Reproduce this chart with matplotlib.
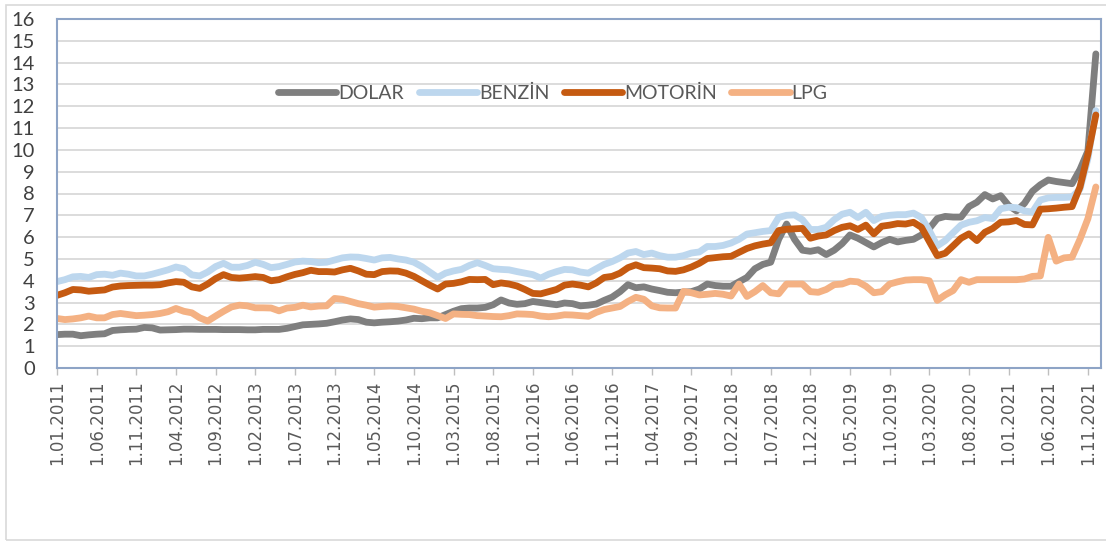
import matplotlib
matplotlib.use('Agg')
import matplotlib.pyplot as plt
from matplotlib.patches import Rectangle

# monthly values, 01.2011 - 12.2021
dolar = [1.53, 1.55, 1.55, 1.48, 1.52, 1.55, 1.57, 1.72, 1.75, 1.77, 1.78, 1.86,
         1.84, 1.74, 1.75, 1.76, 1.78, 1.78, 1.77, 1.77, 1.77, 1.76, 1.76, 1.76,
         1.75, 1.75, 1.77, 1.77, 1.77, 1.82, 1.90, 1.98, 2.00, 2.02, 2.05, 2.12,
         2.20, 2.25, 2.22, 2.10, 2.07, 2.10, 2.12, 2.15, 2.20, 2.28, 2.26, 2.30,
         2.30, 2.45, 2.60, 2.72, 2.75, 2.75, 2.78, 2.90, 3.12, 2.98, 2.92, 2.95,
         3.05, 3.00, 2.95, 2.90, 2.98, 2.95, 2.85, 2.88, 2.93, 3.10, 3.25, 3.50,
         3.82, 3.68, 3.72, 3.62, 3.55, 3.47, 3.45, 3.48, 3.50, 3.62, 3.85, 3.78,
         3.75, 3.75, 3.95, 4.15, 4.55, 4.75, 4.85, 5.90, 6.60, 5.90, 5.40, 5.35,
         5.42, 5.20, 5.40, 5.70, 6.10, 5.95, 5.75, 5.55, 5.75, 5.90, 5.78, 5.85,
         5.90, 6.10, 6.40, 6.85, 6.95, 6.92, 6.92, 7.40, 7.60, 7.95, 7.75, 7.90,
         7.45, 7.20, 7.55, 8.10, 8.40, 8.62, 8.55, 8.50, 8.45, 9.10, 9.95, 14.40]

benzin = [3.96, 4.05, 4.18, 4.20, 4.15, 4.28, 4.30, 4.25, 4.35, 4.30, 4.22, 4.22,
          4.30, 4.40, 4.50, 4.63, 4.55, 4.27, 4.22, 4.40, 4.65, 4.80, 4.62, 4.62,
          4.70, 4.85, 4.75, 4.60, 4.65, 4.75, 4.86, 4.90, 4.88, 4.83, 4.85, 4.95,
          5.05, 5.09, 5.08, 5.02, 4.95, 5.05, 5.07, 5.00, 4.95, 4.85, 4.65, 4.40,
          4.15, 4.35, 4.45, 4.52, 4.70, 4.83, 4.70, 4.55, 4.52, 4.50, 4.42, 4.35,
          4.28, 4.12, 4.30, 4.42, 4.52, 4.50, 4.40, 4.35, 4.55, 4.75, 4.88, 5.05,
          5.27, 5.34, 5.20, 5.27, 5.15, 5.08, 5.08, 5.15, 5.27, 5.32, 5.57, 5.57,
          5.62, 5.73, 5.90, 6.14, 6.20, 6.26, 6.30, 6.90, 7.00, 7.02, 6.80, 6.35,
          6.35, 6.45, 6.80, 7.05, 7.14, 6.90, 7.14, 6.76, 6.95, 7.00, 7.03, 7.03,
          7.10, 6.90, 6.30, 5.60, 5.84, 6.20, 6.55, 6.68, 6.75, 6.90, 6.85, 7.30,
          7.37, 7.35, 7.20, 7.15, 7.70, 7.80, 7.82, 7.82, 7.84, 8.20, 9.60, 11.80]

motorin = [3.33, 3.45, 3.60, 3.58, 3.52, 3.55, 3.58, 3.71, 3.76, 3.78, 3.79, 3.80,
           3.80, 3.82, 3.90, 3.96, 3.93, 3.72, 3.65, 3.85, 4.10, 4.28, 4.15, 4.12,
           4.15, 4.19, 4.15, 4.00, 4.05, 4.18, 4.29, 4.37, 4.48, 4.42, 4.42, 4.40,
           4.50, 4.57, 4.45, 4.30, 4.28, 4.42, 4.45, 4.44, 4.35, 4.20, 4.00, 3.80,
           3.62, 3.85, 3.88, 3.95, 4.06, 4.05, 4.06, 3.82, 3.90, 3.85, 3.76, 3.60,
           3.42, 3.40, 3.50, 3.60, 3.80, 3.85, 3.80, 3.72, 3.90, 4.15, 4.20, 4.35,
           4.60, 4.73, 4.60, 4.58, 4.55, 4.45, 4.43, 4.50, 4.63, 4.80, 5.02, 5.06,
           5.10, 5.12, 5.30, 5.48, 5.60, 5.68, 5.74, 6.30, 6.36, 6.38, 6.40, 5.95,
           6.05, 6.10, 6.30, 6.45, 6.52, 6.35, 6.55, 6.15, 6.50, 6.55, 6.62, 6.60,
           6.68, 6.45, 5.80, 5.15, 5.26, 5.60, 5.95, 6.15, 5.84, 6.22, 6.40, 6.68,
           6.70, 6.76, 6.58, 6.56, 7.28, 7.30, 7.33, 7.37, 7.40, 8.30, 9.80, 11.60]

lpg = [2.27, 2.22, 2.25, 2.30, 2.38, 2.30, 2.30, 2.45, 2.50, 2.45, 2.40, 2.42,
       2.45, 2.50, 2.58, 2.73, 2.60, 2.53, 2.30, 2.15, 2.38, 2.60, 2.80, 2.88,
       2.85, 2.76, 2.76, 2.75, 2.62, 2.75, 2.78, 2.88, 2.80, 2.84, 2.85, 3.19,
       3.15, 3.05, 2.95, 2.88, 2.79, 2.82, 2.84, 2.82, 2.76, 2.70, 2.60, 2.53,
       2.40, 2.27, 2.48, 2.46, 2.45, 2.40, 2.38, 2.36, 2.35, 2.40, 2.48, 2.47,
       2.45, 2.38, 2.35, 2.38, 2.44, 2.43, 2.40, 2.37, 2.55, 2.68, 2.75, 2.82,
       3.05, 3.24, 3.15, 2.85, 2.76, 2.75, 2.75, 3.51, 3.45, 3.35, 3.38, 3.42,
       3.38, 3.30, 3.85, 3.28, 3.50, 3.78, 3.45, 3.40, 3.85, 3.85, 3.85, 3.50,
       3.47, 3.60, 3.82, 3.85, 3.98, 3.95, 3.75, 3.45, 3.50, 3.85, 3.95, 4.03,
       4.05, 4.05, 4.00, 3.10, 3.35, 3.55, 4.05, 3.93, 4.05, 4.05, 4.05, 4.05,
       4.05, 4.05, 4.08, 4.20, 4.22, 5.99, 4.90, 5.05, 5.08, 5.90, 6.85, 8.30]

months = []
for year in range(2011, 2022):
    for m in range(1, 13):
        months.append('1.{:02d}.{}'.format(m, year))

series = [('DOLAR', dolar, '#7f7f7f'),
          ('BENZİN', benzin, '#bdd7ee'),
          ('MOTORİN', motorin, '#c55a11'),
          ('LPG', lpg, '#f4b183')]

fig = plt.figure(figsize=(11.06, 5.43), dpi=100)
fig.patches.append(Rectangle((6 / 1106, 3 / 543), 1.2, (539 - 4) / 543,
                             transform=fig.transFigure, fill=False,
                             edgecolor='#d9d9d9', lw=1.2))
ax = fig.add_axes([57 / 1106, 1 - 368 / 543, 1044 / 1106, 349 / 543])

x = list(range(len(months)))
for name, vals, col in series:
    ax.plot(x, vals, color=col, lw=4.9, label=name, solid_capstyle='round',
            solid_joinstyle='round')

ax.set_xlim(0, 131.65)
ax.set_ylim(0, 16)
ax.set_yticks(range(0, 17))
ax.yaxis.grid(True, color='#d9d9d9', lw=1.3)
ax.set_axisbelow(True)
ax.tick_params(axis='y', length=0, pad=16, labelsize=14.5, labelcolor='#404040')
for lab in ax.get_yticklabels():
    lab.set_fontfamily('Lato')

ax.set_xticks(x[::5])
ax.set_xticklabels(months[::5], rotation=90, fontsize=12, color='#595959')
ax.tick_params(axis='x', length=5, width=1, color='#bfbfbf', pad=4)

for s in ax.spines.values():
    s.set_color('#8ea4c6')
    s.set_linewidth(1.5)

leg = ax.legend(loc='center', bbox_to_anchor=(0.475, 0.788), ncol=4,
                frameon=False, handlelength=3.0, handletextpad=0.1,
                columnspacing=0.75, borderaxespad=0,
                prop={'family': 'Lato', 'size': 14})
for t in leg.get_texts():
    t.set_color('#595959')

fig.savefig('out.png', dpi=100)
